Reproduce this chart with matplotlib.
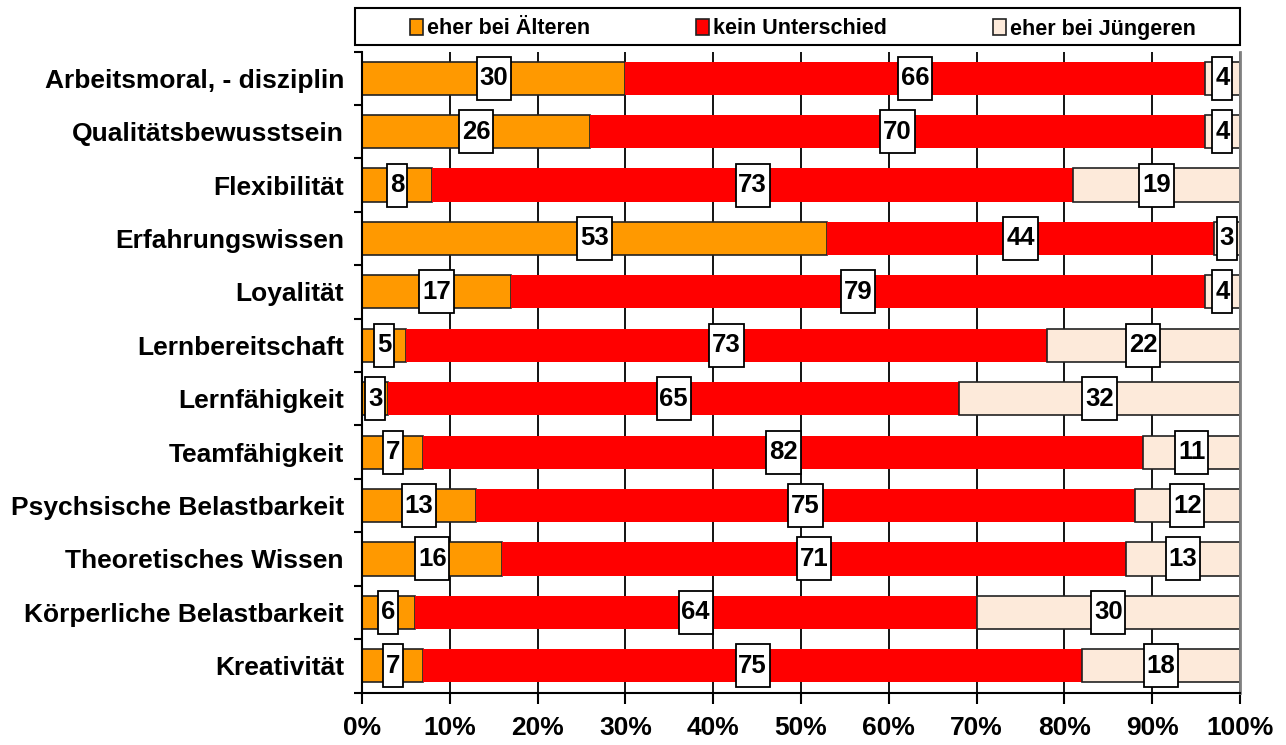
import matplotlib
matplotlib.use("Agg")
import matplotlib.pyplot as plt
import numpy as np
from matplotlib.path import Path
from matplotlib.patches import Patch, Rectangle

categories = ["Arbeitsmoral, - disziplin", "Qualitätsbewusstsein", "Flexibilität",
              "Erfahrungswissen", "Loyalität", "Lernbereitschaft", "Lernfähigkeit",
              "Teamfähigkeit", "Psychsische Belastbarkeit", "Theoretisches Wissen",
              "Körperliche Belastbarkeit", "Kreativität"]
aeltere = [30, 26, 8, 53, 17, 5, 3, 7, 13, 16, 6, 7]
kein_unterschied = [66, 70, 73, 44, 79, 73, 65, 82, 75, 71, 64, 75]
juengere = [4, 4, 19, 3, 4, 22, 32, 11, 12, 13, 30, 18]
series_names = ["eher bei Älteren", "kein Unterschied", "eher bei Jüngeren"]
x_ticks = [0, 10, 20, 30, 40, 50, 60, 70, 80, 90, 100]
x_tick_labels = ["0%", "10%", "20%", "30%", "40%", "50%", "60%", "70%", "80%", "90%", "100%"]

colors = ["#FF9900", "#FF0000", "#FDEADA"]
edges = ["#222222", "none", "#222222"]

plt.rcParams['font.family'] = ['Liberation Sans', 'DejaVu Sans']
plt.rcParams['font.weight'] = 'bold'

W, H = 1286, 745
fig = plt.figure(figsize=(W / 100, H / 100), dpi=100)
ax = fig.add_axes([362/W, 1 - 692.5/H, (1240 - 362)/W, (692.5 - 51.5)/H])

def tallbox(x0, y0, width, height, mutation_size):
    px = 0.11 * mutation_size
    py = 0.37 * mutation_size
    x0 -= px; y0 -= py
    x1 = x0 + width + 2 * px
    y1 = y0 + height + 2 * py
    return Path([(x0, y0), (x1, y0), (x1, y1), (x0, y1), (x0, y0)],
                [Path.MOVETO, Path.LINETO, Path.LINETO, Path.LINETO, Path.CLOSEPOLY])

y = np.arange(len(categories))
series = [aeltere, kein_unterschied, juengere]
left = np.zeros(len(categories))
bar_h = 0.62
for vals, c, ec in zip(series, colors, edges):
    vals = np.array(vals, dtype=float)
    ax.barh(y, vals, left=left, height=bar_h, color=c, edgecolor=ec,
            linewidth=1.2, zorder=2)
    for yi, l, v in zip(y, left, vals):
        ax.text(l + v / 2, yi, f"{int(v)}", ha="center", va="center",
                fontsize=18.5, fontweight="bold", zorder=4,
                bbox=dict(boxstyle=tallbox, facecolor="white",
                          edgecolor="black", linewidth=1.3))
    left += vals

ax.set_xlim(0, 100)
ax.set_ylim(len(categories) - 0.5, -0.5)

ax.set_xticks(x_ticks)
ax.set_xticklabels(x_tick_labels, fontsize=19, fontweight="bold")
ax.tick_params(axis="x", direction="out", length=8, width=1.5, pad=9)

ax.set_yticks(y)
ax.set_yticklabels(categories, fontsize=19, fontweight="bold")
ax.tick_params(axis="y", which="major", length=0, pad=13)
ax.set_yticks(np.arange(-0.5, len(categories), 1.0), minor=True)
ax.tick_params(axis="y", which="minor", direction="out", length=6, width=1.5)

ax.grid(axis="x", color="black", linewidth=1.3, zorder=0)
ax.set_axisbelow(True)

ax.spines["top"].set_visible(False)
ax.spines["right"].set_color("#808080")
ax.spines["right"].set_linewidth(2)
ax.spines["left"].set_linewidth(1.5)
ax.spines["bottom"].set_linewidth(1.5)

# legend frame
fig.patches.append(Rectangle((355/W, 1 - 45/H), (1240 - 355)/W, 37/H,
                             transform=fig.transFigure, facecolor="white",
                             edgecolor="black", linewidth=1.5, zorder=5))
handles = [Patch(facecolor=c, edgecolor="#222222", linewidth=1.2) for c in colors]
leg = fig.legend(handles, series_names, loc="center",
                 bbox_to_anchor=(803/W, 1 - 29/H),
                 ncol=3, frameon=False, borderaxespad=0, borderpad=0,
                 handlelength=0.6, handleheight=0.8, handletextpad=0.2,
                 columnspacing=4.9, prop=dict(size=15.5, weight="bold"))
leg.set_zorder(6)

fig.savefig("out.png", dpi=100)
